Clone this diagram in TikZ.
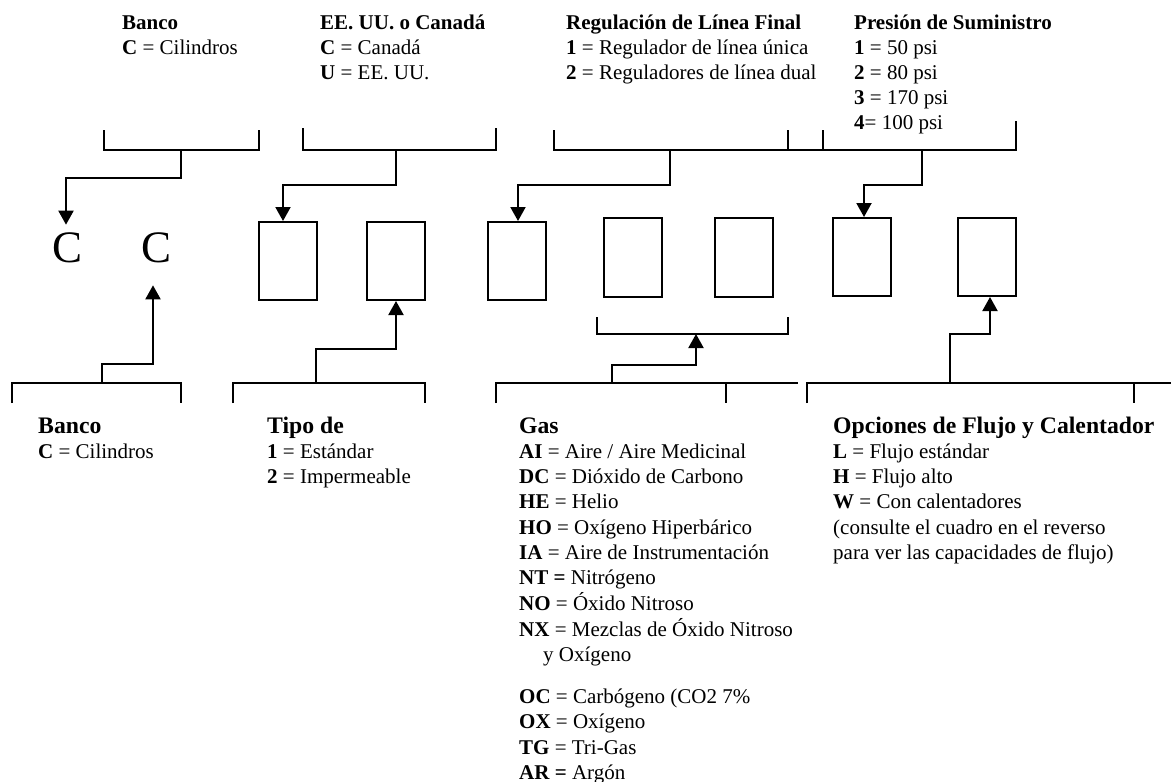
\documentclass[tikz,border=0pt]{standalone}
\usepackage{fontspec}
\setmainfont{Liberation Serif}
\usetikzlibrary{arrows.meta}
\newcommand{\lblock}[1]{\begin{tabular}[t]{@{}l@{}}#1\end{tabular}}
\newcommand{\bighead}[1]{{\fontsize{23.7}{25.3}\selectfont\bfseries #1}}
\begin{document}
\begin{tikzpicture}[x=1pt,y=-1pt,
  ln/.style={line width=2pt},
  ar/.style={line width=2pt,-{Triangle[width=15pt,length=14pt]}},
  box/.style={draw,line width=2pt,minimum width=58pt,minimum height=78pt,inner sep=0pt},
  bigc/.style={inner sep=0pt,font=\fontsize{45}{50}\selectfont},
  txt/.style={anchor=base west,inner sep=0pt,font=\fontsize{21}{25.3}\selectfont},
  toptxt/.style={anchor=base west,inner sep=0pt,font=\fontsize{21}{25}\selectfont},
]
\useasboundingbox[fill=white] (0,0) rectangle (1171,782);

% top labels
\node[toptxt] (tl1) at (122,29) {\lblock{\textbf{Banco}\\\textbf{C} = Cilindros}};
\node[toptxt] (tl2) at (320,29) {\lblock{\textbf{EE. UU. o Canadá}\\\textbf{C} = Canadá\\\textbf{U} = EE. UU.}};
\node[toptxt] (tl3) at (566,29) {\lblock{\textbf{Regulación de Línea Final}\\\textbf{1} = Regulador de línea única\\\textbf{2} = Reguladores de línea dual}};
\node[toptxt] (tl4) at (854,29) {\lblock{\textbf{Presión de Suministro}\\\textbf{1} = 50 psi\\\textbf{2} = 80 psi\\\textbf{3} = 170 psi\\\textbf{4}= 100 psi}};

% code positions
\node[bigc] (c1) at (68,248) {C};
\node[bigc] (c2) at (157,248) {C};
\node[box] (b1) at (288,261) {};
\node[box] (b2) at (396,261) {};
\node[box] (b3) at (516.5,261) {};
\node[box,minimum height=79pt] (b4) at (633,257.5) {};
\node[box,minimum height=79pt] (b5) at (743.5,257.5) {};
\node[box] (b6) at (862,257) {};
\node[box] (b7) at (987,257) {};

% top brackets
\draw[ln] (104,130) -- (104,150) -- (259,150) -- (259,130);
\draw[ln] (303,128) -- (303,150) -- (496,150) -- (496,128);
\draw[ln] (554,130) -- (554,150) -- (1016,150) -- (1016,121);
\draw[ln] (788,130) -- (788,150);
\draw[ln] (823,130) -- (823,150);
\coordinate (tA) at (181,150);
\coordinate (tB) at (396,150);
\coordinate (tC) at (670,150);
\coordinate (tD) at (922,150);

% bottom brackets
\draw[ln] (12,403) -- (12,383) -- (181,383) -- (181,403);
\draw[ln] (233,403) -- (233,383) -- (425,383) -- (425,403);
\draw[ln] (597,317) -- (597,334) -- (788,334) -- (788,317);
\draw[ln] (496,403) -- (496,383) -- (798,383);
\draw[ln] (726,383) -- (726,403);
\draw[ln] (807,403) -- (807,383) -- (1171,383);
\draw[ln] (1134,383) -- (1134,403);
\coordinate (sA) at (102,383);
\coordinate (sB) at (316,383);
\coordinate (sC) at (612,383);
\coordinate (sD) at (950,383);
\coordinate (fB) at (696,334);

% connectors
\draw[ar] (tA) -- ++(0,28) -| ([xshift=-2pt,yshift=8pt]c1.north);
\draw[ar] (tB) -- ++(0,35) -| ([xshift=-5pt]b1.north);
\draw[ar] (tC) -- ++(0,35) -| ([xshift=1.5pt]b3.north);
\draw[ar] (tD) -- ++(0,35) -| ([xshift=2pt]b6.north);
\draw[ar] (sA) -- ++(0,-19) -| ([xshift=-4pt,yshift=-22pt]c2.south);
\draw[ar] (sB) -- ++(0,-34) -| (b2.south);
\draw[ar] (sC) -- ++(0,-18) -| (fB);
\draw[ar] (sD) -- ++(0,-49) -| ([xshift=3pt]b7.south);

% bottom labels
\node[txt] (bl1) at (38,433) {\lblock{\bighead{Banco}\\\textbf{C} = Cilindros}};
\node[txt] (bl2) at (267,433) {\lblock{\bighead{Tipo de}\\\textbf{1} = Estándar\\\textbf{2} = Impermeable}};
\node[txt] (bl3) at (519,433) {\lblock{\bighead{Gas}\\
\textbf{AI} = Aire / Aire Medicinal\\
\textbf{DC} = Dióxido de Carbono\\
\textbf{HE} = Helio\\
\textbf{HO} = Oxígeno Hiperbárico\\
\textbf{IA} = Aire de Instrumentación\\
\textbf{NT =} Nitrógeno\\
\textbf{NO} = Óxido Nitroso\\
\textbf{NX} = Mezclas de Óxido Nitroso\\
\hspace*{24pt}y Oxígeno\\[17pt]
\textbf{OC} = Carbógeno (CO2 7\%\\
\textbf{OX} = Oxígeno\\
\textbf{TG} = Tri-Gas\\
\textbf{AR =} Argón}};
\node[txt] (bl4) at (833,433) {\lblock{\bighead{Opciones de Flujo y Calentador}\\
\textbf{L} = Flujo estándar\\
\textbf{H} = Flujo alto\\
\textbf{W} = Con calentadores\\
(consulte el cuadro en el reverso\\
para ver las capacidades de flujo)}};
\end{tikzpicture}
\end{document}
